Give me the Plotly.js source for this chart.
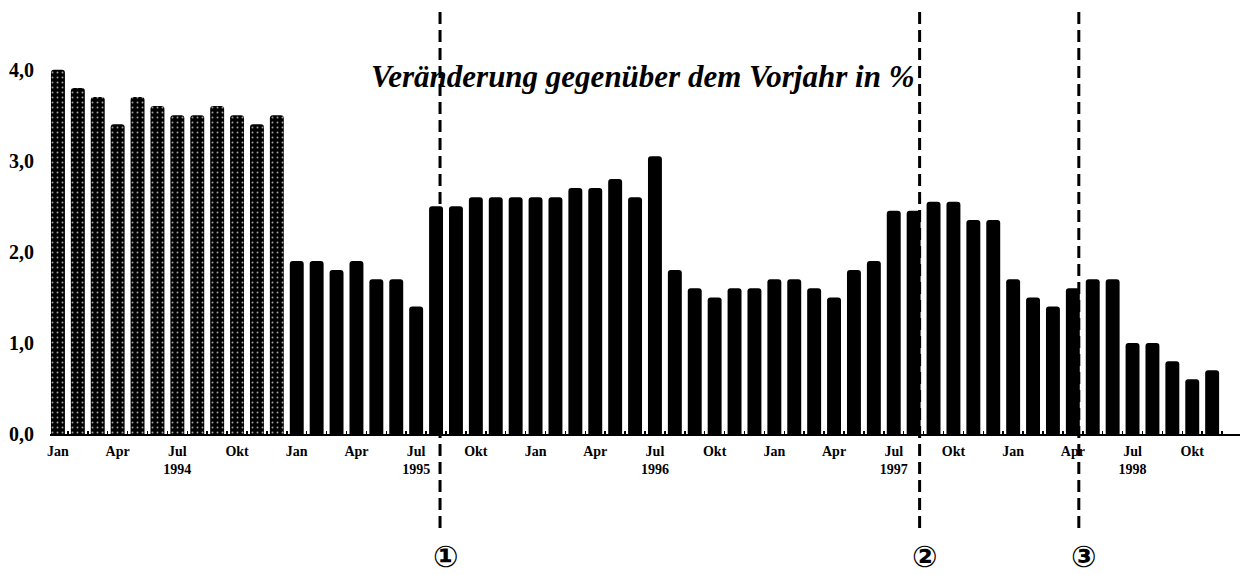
<!DOCTYPE html>
<html>
<head>
<meta charset="utf-8">
<script src="https://cdn.plot.ly/plotly-3.0.1.min.js"></script>
<style>
  html, body { margin: 0; padding: 0; background: #ffffff; }
  #chart { width: 1242px; height: 575px; }
</style>
</head>
<body>
<div id="chart"></div>
<script>
// Monthly categories Jan 1994 .. Nov 1998
const months = ['Jan','Feb','Mrz','Apr','Mai','Jun','Jul','Aug','Sep','Okt','Nov','Dez'];
const years = [1994, 1995, 1996, 1997, 1998];

// Veränderung gegenüber dem Vorjahr in %
const values1994 = [4.0, 3.8, 3.7, 3.4, 3.7, 3.6, 3.5, 3.5, 3.6, 3.5, 3.4, 3.5];
const values1995 = [1.9, 1.9, 1.8, 1.9, 1.7, 1.7, 1.4, 2.5, 2.5, 2.6, 2.6, 2.6];
const values1996 = [2.6, 2.6, 2.7, 2.7, 2.8, 2.6, 3.05, 1.8, 1.6, 1.5, 1.6, 1.6];
const values1997 = [1.7, 1.7, 1.6, 1.5, 1.8, 1.9, 2.45, 2.45, 2.55, 2.55, 2.35, 2.35];
const values1998 = [1.7, 1.5, 1.4, 1.6, 1.7, 1.7, 1.0, 1.0, 0.8, 0.6, 0.7];

// Tick labels (every quarter), year shown under July
const tickMonths = ['Jan', 'Apr', 'Jul', 'Okt'];
const tickMonthIdx = [0, 3, 6, 9];
const yTicks = [0, 1, 2, 3, 4];

// Event markers: month index (position between bars) and label
const eventPos = [19.2, 43.3, 51.3];
const eventLabels = ['\u2460', '\u2461', '\u2462'];

// ---- build series ----
const allValues = [].concat(values1994, values1995, values1996, values1997, values1998);
const xIdx = allValues.map((_, i) => i);
const hoverLabels = allValues.map((_, i) => months[i % 12] + ' ' + years[Math.floor(i / 12)]);
const patternShapes = allValues.map((_, i) => (i < 12 ? '.' : ''));

const tickvals = [];
const ticktext = [];
years.forEach((yr, yi) => {
  tickMonthIdx.forEach((m, k) => {
    const idx = yi * 12 + m;
    if (idx < allValues.length) {
      tickvals.push(idx);
      ticktext.push(m === 6 ? tickMonths[k] + '<br>' + yr : tickMonths[k]);
    }
  });
});

const serif = 'Liberation Serif, Times New Roman, serif';

const trace = {
  type: 'bar',
  x: xIdx,
  y: allValues,
  text: hoverLabels,
  hoverinfo: 'text+y',
  textposition: 'none',
  marker: {
    color: '#000000',
    cornerradius: 3,
    line: { width: 0 },
    pattern: {
      shape: patternShapes,
      fgcolor: '#a0a0a0',
      bgcolor: '#000000',
      fillmode: 'replace',
      size: 5,
      solidity: 0.12
    }
  }
};

// plot area geometry (pixels)
const mL = 50, mR = 2, mT = 5, mB = 141;
const plotH = 575 - mT - mB;
const xMin = -0.4, xMax = 59.4;
const yMax = 4.71;
function xPaper(v) { return (v - xMin) / (xMax - xMin); }

const shapes = eventPos.map(p => ({
  type: 'line',
  xref: 'paper', yref: 'paper',
  x0: xPaper(p), x1: xPaper(p),
  y0: -94 / plotH, y1: 1 - 5 / plotH,
  line: { color: '#000000', width: 3, dash: '12px,6px' },
  layer: 'above'
}));

const annotations = [
  {
    xref: 'paper', yref: 'paper',
    x: xPaper(29.35), y: 1 - (76 - mT) / plotH,
    xanchor: 'center', yanchor: 'middle',
    text: 'Veränderung gegenüber dem Vorjahr in %',
    showarrow: false,
    font: { family: serif, size: 31, color: '#000000', weight: 'bold', style: 'italic' }
  }
].concat(eventPos.map((p, i) => ({
  xref: 'paper', yref: 'paper',
  x: xPaper(p + 0.25), y: -(556 - (575 - mB)) / plotH,
  xanchor: 'center', yanchor: 'middle',
  text: eventLabels[i],
  showarrow: false,
  font: { family: 'DejaVu Sans, Noto Sans CJK SC, sans-serif', size: 30, color: '#000000', weight: 'bold' }
})));

const layout = {
  width: 1242,
  height: 575,
  margin: { l: mL, r: mR, t: mT, b: mB, pad: 0 },
  paper_bgcolor: '#ffffff',
  plot_bgcolor: '#ffffff',
  separators: ',.',
  showlegend: false,
  bargap: 0.3,
  xaxis: {
    range: [xMin, xMax],
    tickmode: 'array',
    tickvals: tickvals,
    ticktext: ticktext,
    ticks: '',
    ticklabelstandoff: 3,
    showgrid: false,
    zeroline: false,
    showline: true,
    linecolor: '#000000',
    linewidth: 2,
    tickfont: { family: serif, size: 14, color: '#000000', weight: 'bold' },
    minor: { ticks: 'inside', tick0: 0.5, dtick: 1, ticklen: 3, tickwidth: 1.5, tickcolor: '#000000', showgrid: false }
  },
  yaxis: {
    range: [0, yMax],
    tickmode: 'array',
    tickvals: yTicks,
    tickformat: '.1f',
    ticks: '',
    ticklabelstandoff: 15,
    showgrid: false,
    zeroline: false,
    showline: false,
    tickfont: { family: serif, size: 20, color: '#000000', weight: 'bold' }
  },
  shapes: shapes,
  annotations: annotations
};

Plotly.newPlot('chart', [trace], layout, { displayModeBar: false, staticPlot: true });
</script>
</body>
</html>
